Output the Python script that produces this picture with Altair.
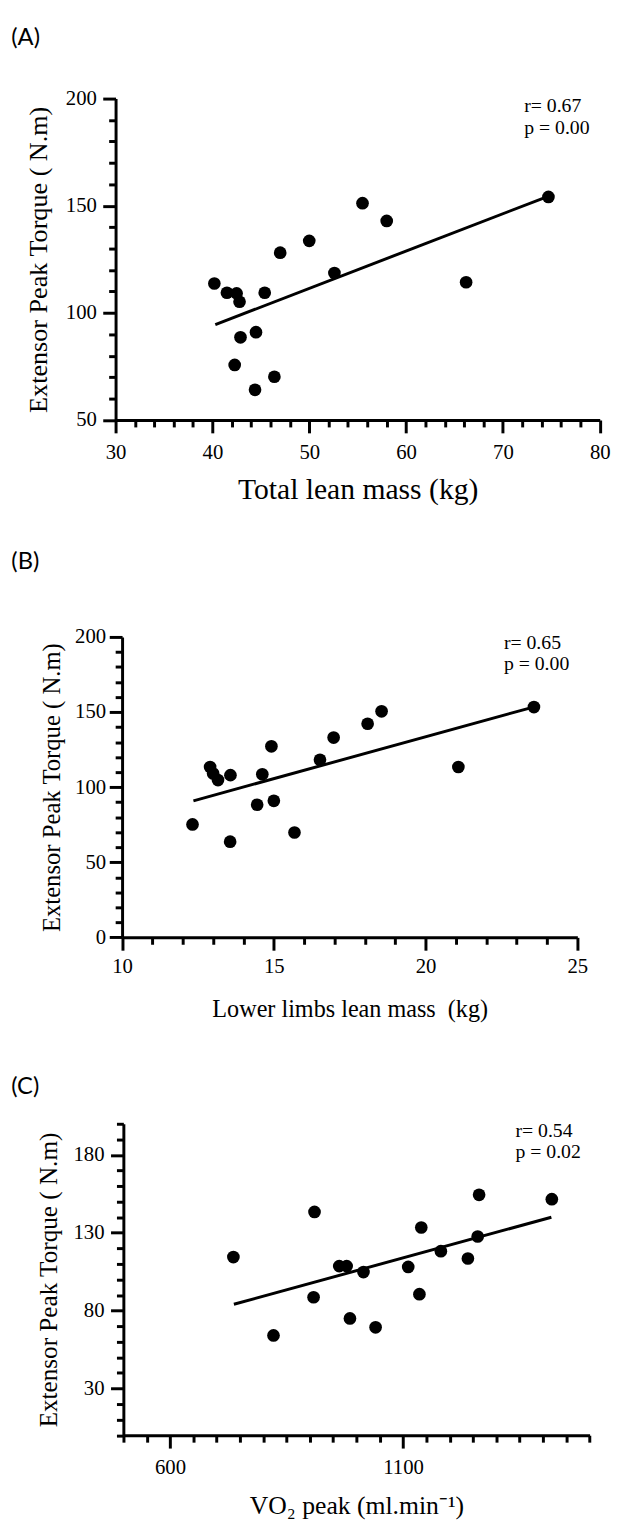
import altair as alt
import pandas as pd

# ---------------- data ----------------
# Panel A: total lean mass (kg) vs extensor peak torque (N.m)
a_mass = [40.2, 41.5, 42.5, 42.8, 45.4, 47.0, 50.0, 52.6, 55.5, 58.0, 66.2, 74.7, 42.9, 44.5, 42.3, 46.4, 44.4]
a_torque = [113.7, 109.4, 109.1, 105.2, 109.4, 128.1, 133.6, 118.6, 151.2, 142.9, 114.3, 154.1, 88.6, 91.0, 75.7, 70.2, 64.1]
a_fit_x = [40.3, 74.6]
a_fit_y = [94.5, 154.3]
a_note = ["r= 0.67", "p = 0.00"]
a_note_x = [72.2, 72.2]
a_note_y = [193.7, 183.6]
a_label, a_label_x, a_label_y = ["(A)"], [19.23], [228.4]

# Panel B: lower limbs lean mass (kg) vs extensor peak torque
b_mass = [12.32, 12.9, 13.0, 13.16, 13.57, 13.56, 14.45, 14.62, 14.92, 15.0, 15.68, 16.52, 16.97, 18.09, 18.55, 21.08, 23.57]
b_torque = [75.2, 113.4, 109.1, 104.7, 108.0, 63.7, 88.3, 108.6, 127.2, 90.9, 69.8, 118.2, 133.0, 142.2, 150.5, 113.4, 153.3]
b_fit_x = [12.35, 23.55]
b_fit_y = [90.9, 153.3]
b_note = ["r= 0.65", "p = 0.00"]
b_note_x = [22.58, 22.58]
b_note_y = [192.1, 178.1]
b_label, b_label_x, b_label_y = ["(B)"], [6.35], [249.5]

# Panel C: VO2 peak (ml/min) vs extensor peak torque
c_vo2 = [736, 822, 910, 908, 963, 979, 1015, 986, 1041, 1111, 1135, 1139, 1181, 1239, 1260, 1263, 1419]
c_torque = [114.4, 64.1, 143.4, 88.6, 108.6, 108.6, 104.8, 75.0, 69.3, 108.1, 90.6, 133.4, 118.2, 113.5, 127.6, 154.4, 151.6]
c_fit_x = [737, 1418]
c_fit_y = [84.1, 140.0]
c_note = ["r= 0.54", "p = 0.02"]
c_note_x = [1341, 1341]
c_note_y = [191.6, 177.8]
c_label, c_label_x, c_label_y = ["(C)"], [259.5], [223.4]

y_title = "Extensor Peak Torque ( N.m)"

SERIF = "Liberation Serif"
SANS = "Lato"


def axis(title, values, major, label_pad, title_pad, title_size, offset=0):
    return alt.Axis(
        title=title,
        values=values,
        format="d",
        labelExpr=f"({major}) ? datum.label : ''",
        tickSize={"condition": {"test": major, "value": 13}, "value": 7},
        tickWidth=3,
        tickColor="black",
        domainColor="black",
        domainWidth=3,
        grid=False,
        labelFont=SERIF,
        labelFontSize=21,
        labelColor="black",
        labelPadding=label_pad,
        labelFlush=False,
        labelOverlap=False,
        titleFont=SERIF,
        titleFontSize=title_size,
        titleFontWeight="normal",
        titleColor="black",
        titlePadding=title_pad,
        offset=offset,
    )


def panel(lab, lx, ly, shift, xs, ys, fx, fy, notes, nx, ny,
          xdom, ydom, xvals, yvals, xmajor, ymajor, xtitle, xtsize, ytsize,
          w, h, xlp, xtp, ylp, ytp):
    pts = pd.DataFrame({"x": xs, "y": ys})
    fit = pd.DataFrame({"x": fx, "y": fy})
    ann = pd.DataFrame({"x": nx, "y": ny, "t": notes})
    tag = pd.DataFrame({"x": lx, "y": ly, "t": lab})
    xs_ = alt.Scale(domain=xdom, range=[shift, shift + w], nice=False, zero=False)
    ys_ = alt.Scale(domain=ydom, nice=False, zero=False)
    xa = axis(xtitle, xvals, xmajor, xlp, xtp, xtsize)
    ya = axis(y_title, yvals, ymajor, ylp, ytp, ytsize, offset=-shift)
    X = alt.X("x:Q", scale=xs_, axis=xa)
    Y = alt.Y("y:Q", scale=ys_, axis=ya)
    base_pts = alt.Chart(pts).mark_circle(size=165, color="black", opacity=1).encode(x=X, y=Y)
    line = alt.Chart(fit).mark_line(color="black", strokeWidth=3).encode(x=X, y=Y)
    txt = alt.Chart(ann).mark_text(
        font=SERIF, fontSize=20, align="left", baseline="alphabetic", color="black"
    ).encode(x=X, y=Y, text="t:N")
    head = alt.Chart(tag).mark_text(
        font=SANS, fontSize=24, align="left", baseline="middle", color="black"
    ).encode(x=X, y=Y, text="t:N")
    return alt.layer(base_pts, line, txt, head).properties(width=shift + w, height=h)


pA = panel(a_label, a_label_x, a_label_y, 0, a_mass, a_torque, a_fit_x, a_fit_y,
           a_note, a_note_x, a_note_y,
           [30, 80], [50, 200], list(range(30, 81, 2)), list(range(50, 201, 10)),
           "datum.value % 10 == 0", "datum.value % 50 == 0", "Total lean mass (kg)", 30, 26.5,
           490.6, 325.7, 9.5, 12, 6.4, 13.5)

pB = panel(b_label, b_label_x, b_label_y, 6.6, b_mass, b_torque, b_fit_x, b_fit_y,
           b_note, b_note_x, b_note_y,
           [10, 25], [0, 200], list(range(10, 26, 1)), list(range(0, 201, 10)),
           "datum.value % 5 == 0", "datum.value % 50 == 0",
           "Lower limbs lean mass\u00a0 (kg)", 24.5, 25,
           461.3, 304.4, 6, 21, 3.6, 10)

pC = panel(c_label, c_label_x, c_label_y, 7.9, c_vo2, c_torque, c_fit_x, c_fit_y,
           c_note, c_note_x, c_note_y,
           [500, 1500], [0, 200], list(range(500, 1501, 50)), list(range(0, 201, 10)),
           "datum.value == 600 || datum.value == 1100",
           "datum.value >= 30 && (datum.value - 30) % 50 == 0",
           "VO\u2082 peak (ml.min\u207b\u00b9)", 26, 25.5,
           472.4, 315.6, 8.6, 15.7, 6.6, 11.3)

top = alt.concat(pA, pB, columns=1, spacing=45.5, align="none")
chart = alt.concat(top, pC, columns=1, spacing=54.8, align="none").properties(
    padding={"left": 3, "top": 7.7, "right": 0, "bottom": 0}
).configure(background="white").configure_view(strokeWidth=0)

chart.save("out.html", embed_options={"renderer": "svg", "actions": False})
